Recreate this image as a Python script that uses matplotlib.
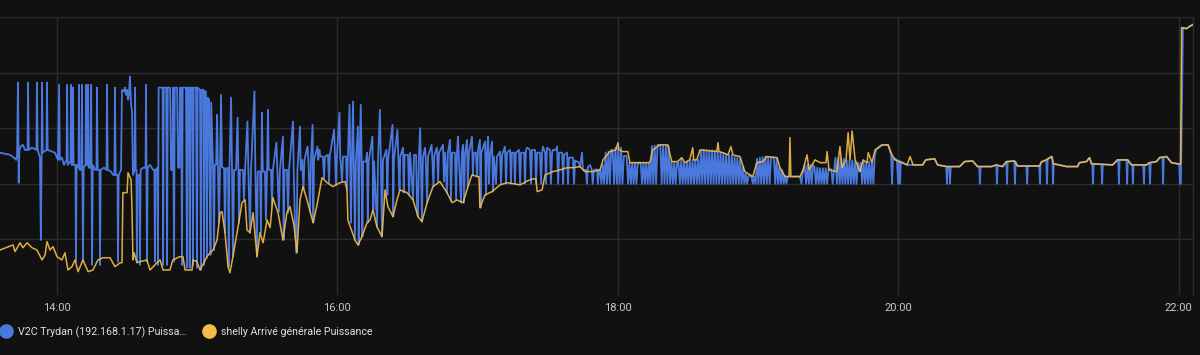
import numpy as np
import pandas as pd
import matplotlib
matplotlib.use("Agg")
import matplotlib.pyplot as plt
from matplotlib.lines import Line2D

plt.rcParams['font.family'] = ['Roboto', 'DejaVu Sans']

# ---------------- data (minutes after 14:00, watts) ----------------
labels = ["V2C Trydan (192.168.1.17) Puissa\u2026", "shelly Arriv\u00e9 g\u00e9n\u00e9rale Puissance"]
tick_hours = ["14:00", "16:00", "18:00", "20:00", "22:00"]

shelly_min = [
    -24.4, -18.8, -18.0, -15.8, -14.6, -12.8, -10.7, -8.6, -6.4, -5.1, -4.3, -3.0, -1.7, 0.0,
    2.1, 3.4, 4.7, 6.4, 7.7, 9.0, 11.1, 13.3, 15.4, 17.5, 19.7, 22.7, 24.8, 27.0, 27.8, 28.2,
    30.0, 30.4, 31.7, 32.1, 32.5, 33.0, 34.2, 35.5, 38.5, 39.8, 43.2, 44.1, 45.4, 48.3, 49.6,
    52.6, 53.9, 54.8, 57.8, 58.2, 59.9, 61.2, 64.2, 65.5, 66.8, 68.5, 69.8, 70.6, 71.9, 73.2,
    74.0, 75.3, 77.5, 79.2, 80.5, 81.3, 82.6, 83.9, 85.6, 86.9, 88.2, 89.9, 91.2, 92.4, 94.6,
    96.7, 98.4, 99.7, 101.4, 102.7, 104.0, 105.3, 107.0, 109.6, 111.3, 113.4, 115.6, 118.1,
    121.1, 123.3, 124.1, 124.5, 127.5, 128.8, 130.5, 132.7, 134.0, 135.2, 136.9, 139.1, 140.4,
    141.6, 143.8, 145.5, 146.8, 149.8, 152.4, 154.5, 156.2, 158.4, 160.9, 163.9, 166.9, 169.1,
    171.2, 173.8, 175.9, 177.6, 179.8, 180.6, 181.0, 183.2, 186.2, 189.6, 192.6, 198.2, 201.2,
    203.7, 205.0, 205.5, 207.6, 208.9, 212.3, 215.3, 218.3, 220.8, 223.8, 225.9, 229.3, 232.4,
    233.7, 236.6, 239.2, 240.1, 240.5, 242.1, 244.3, 245.2, 253.7, 255.0, 258.0, 261.4, 263.1,
    265.7, 267.4, 268.7, 270.8, 272.1, 272.5, 273.8, 275.2, 282.4, 282.9, 283.3, 285.0, 287.2,
    288.4, 289.3, 292.3, 294.4, 297.8, 299.5, 302.1, 303.8, 308.2, 309.4, 311.6, 313.3, 313.7,
    314.1, 318.0, 319.3, 320.1, 321.0, 321.9, 324.4, 326.6, 329.1, 329.6, 330.4, 333.8, 335.1,
    336.0, 337.7, 338.6, 339.4, 340.3, 341.6, 343.7, 345.0, 346.7, 347.2, 348.8, 350.1, 353.1,
    355.7, 357.4, 358.7, 363.8, 365.1, 366.4, 370.5, 371.8, 375.6, 376.9, 380.8, 386.3, 388.5,
    391.9, 394.0, 400.0, 402.1, 404.7, 406.4, 409.8, 411.1, 420.5, 421.4, 423.5, 425.7, 426.5,
    432.1, 436.8, 437.6, 440.6, 441.9, 442.8, 451.8, 453.9, 458.2, 459.9, 466.3, 467.6, 470.6,
    471.9, 474.9, 477.0, 479.6, 480.9, 481.3, 483.4, 484.7, 486.0,
]
shelly_w = [
    -1190, -1100, -1220, -1060, -1150, -1060, -1150, -1190, -1370, -1280, -1040, -1190, -1130, -1310,
    -1370, -1240, -1550, -1490, -1370, -1580, -1370, -1580, -1550, -1370, -1330, -1330, -1490, -1420, -1420, -160,
    -160, 200, 70, -470, -1370, -1240, -1420, -1400, -1370, -1550, -1400, -1370, -1550, -1550, -1370,
    -1310, -1310, -1550, -1550, -1370, -1400, -1550, -1310, -1240, -1190, -1010, -520, -500, -880, -1490,
    -1600, -1310, -770, -340, -290, -830, -880, -520, -1310, -880, -1060, -650, -790, -250, -520,
    -1010, -520, -410, -740, -1240, -290, -50, -290, -700, -380, 110, 20, -50,
    20, 40, -110, -650, -1010, -1100, -950, -700, -650, -470, -770, -950, -110,
    -410, -590, -290, -110, -160, -290, -590, -680, -340, -50, 40, -160, -340,
    -290, -340, -50, 160, 130, 130, -430, -200, -140, -20, 20, -20, 50,
    90, 90, -140, -110, 160, 220, 250, 290, 290, 310, 220, 220, 250,
    430, 580, 610, 740, 610, 580, 580, 380, 380, 610, 700, 700, 400,
    400, 470, 380, 430, 650, 430, 430, 610, 580, 740, 580, 560, 520,
    670, 520, 490, 220, 130, 380, 400, 490, 470, 290, 130, 130, 830,
    130, 130, 250, 380, 520, 250, 430, 380, 380, 580, 250, 220, 670,
    290, 430, 920, 430, 950, 430, 220, 430, 380, 560, 380, 610, 700,
    700, 520, 430, 340, 490, 340, 340, 430, 450, 340, 310, 310, 400,
    410, 310, 310, 340, 310, 400, 410, 320, 320, 400, 430, 490, 360,
    310, 310, 380, 400, 470, 360, 340, 430, 430, 340, 340, 380, 400,
    470, 490, 380, 360, 360, 2810, 2790, 2830, 2860,
]

v2c_min = [
    # 13:35 - 14:00
    -24.4, -20.1, -18.4, -17.5, -17.1, -16.7, -16.4, -16.1, -15.4, -14.6, -13.7, -12.6, -12.4,
    -12.1, -10.7, -8.8, -8.6, -8.3, -7.3, -6.9, -6.6, -6.4, -6.1, -4.5, -4.3, -4.0, -2.1, -0.9,
    0.4, 0.9, 1.2,
    # 14:00 - 14:44
    2.1, 3.0, 4.1, 4.3, 4.6, 5.8, 6.0, 6.3, 6.6, 6.8, 7.1, 7.9, 8.1, 8.4, 9.2, 9.4, 9.7, 10.5,
    10.7, 10.9, 11.1, 11.4, 12.2, 12.4, 12.7, 13.1, 13.3, 13.6, 14.3, 14.6, 14.8, 15.0, 15.3,
    16.3, 16.9, 17.1, 17.4, 18.2, 18.4, 18.7, 20.1, 21.2, 21.4, 21.7, 23.1, 24.0, 24.6, 24.8,
    25.1, 25.9, 26.1, 26.4, 27.4, 27.8, 28.7, 29.1, 29.5, 30.0, 30.4, 30.8, 31.2, 31.7, 32.1,
    32.5, 33.2, 33.4, 33.7, 34.0, 34.2, 34.5, 35.3, 35.5, 35.8, 36.8, 37.9, 38.1, 38.3, 38.5,
    38.8, 39.8, 41.1, 41.7, 41.9, 42.2, 43.0, 43.2, 43.5,
    # 14:44 - 15:08
    44.5, 45.2, 45.4, 45.7, 46.7, 47.1, 47.4, 48.4, 48.8, 49.4, 49.6, 50.1, 50.4, 51.4, 51.8,
    52.4, 52.6, 53.1, 53.5, 53.8, 55.2, 55.6, 55.9, 56.5, 56.8, 57.1, 57.8, 58.2, 58.5, 59.5,
    59.9, 60.2, 61.2, 61.6, 61.9, 62.7, 62.9, 63.2, 63.7, 64.2, 64.5, 65.1, 65.3, 65.7, 66.0,
    66.8, 67.2, 67.5,
    # 15:08 - 15:45
    68.1, 68.5, 68.9, 69.3, 69.8, 70.2, 70.6, 71.5, 71.9, 72.3, 73.2, 73.5, 73.8, 74.5, 74.9,
    75.3, 75.8, 76.6, 77.3, 77.6, 77.9, 78.3, 79.6, 80.0, 80.5, 81.5, 81.9, 82.6, 83.0, 84.5,
    84.9, 85.6, 85.9, 86.9, 87.3, 87.7, 88.1, 89.0, 89.4, 89.9, 90.3, 90.6, 91.6, 92.0, 92.4,
    93.9, 94.3, 95.0, 95.4, 96.7, 97.0, 97.4, 98.4, 98.9, 99.3, 101.0, 101.3, 101.9, 102.5,
    102.9, 104.0, 104.3,
    # 15:45 - 16:27
    104.9, 105.5, 105.9, 107.2, 107.6, 108.3, 108.7, 109.4, 109.7, 110.0, 111.5, 111.8, 112.3,
    112.7, 113.8, 114.3, 114.7, 116.0, 116.4, 116.8, 118.6, 119.0, 119.4, 119.8, 120.9, 121.2,
    122.0, 122.4, 123.7, 124.1, 124.5, 125.2, 125.5, 125.8, 126.2, 126.7, 127.0, 127.5, 127.9,
    128.8, 129.1, 129.5, 130.0, 130.4, 130.7, 131.0, 132.2, 132.7, 133.0, 133.4, 135.0, 135.4,
    135.7, 137.0, 137.4, 138.2, 138.6, 139.1, 139.5, 141.0, 141.4, 141.7, 143.6, 143.9, 144.2,
    145.7, 146.1, 146.6, 146.9,
    # 16:28 - 17:02
    148.1, 148.4, 148.8, 150.2, 150.7, 151.1, 152.4, 152.8, 153.7, 154.1, 154.5, 154.9, 155.4,
    155.7, 156.2, 156.6, 157.5, 157.8, 158.4, 158.8, 160.3, 160.6, 161.1, 161.5, 162.6, 163.1,
    163.5, 165.2, 165.6, 166.1, 166.9, 167.3, 168.2, 168.6, 169.1, 170.3, 170.8, 171.2, 171.6,
    171.9, 172.9, 173.3, 173.8, 174.2, 174.6, 175.5, 175.8, 176.3, 177.6, 178.0, 178.4, 179.3,
    179.8, 180.2, 181.0, 181.3, 181.6,
    # 17:03 - 17:52
    183.2, 183.6, 184.0, 184.5, 184.9, 185.3, 186.2, 186.6, 187.0, 187.9, 188.3, 189.6, 190.0,
    190.5, 191.7, 192.2, 192.6, 193.9, 194.3, 194.7, 195.6, 196.0, 196.4, 197.7, 198.2, 198.6,
    199.9, 200.3, 200.7, 201.2, 202.4, 202.9, 203.3, 204.6, 205.0, 205.5, 206.7, 207.2, 207.6,
    208.0, 208.9, 209.3, 209.7, 211.0, 211.4, 211.9, 212.3, 213.6, 214.0, 214.5, 214.9, 216.2,
    216.6, 217.0, 218.3, 218.7, 219.1, 220.8, 221.3, 221.7, 223.4, 223.8, 224.7, 225.1, 226.4,
    226.8, 227.2, 228.1, 228.9, 229.3, 229.8, 231.1, 231.5, 232.0,
    # 17:52 - 20:00
    232.4, 233.0, 233.6, 234.2, 234.8, 235.4, 236.0, 236.6, 237.2, 237.8, 238.4, 239.0, 239.6,
    240.2, 240.8, 241.4, 242.0, 242.6, 243.8, 244.4, 245.0, 245.6, 246.2, 246.8, 247.4, 248.0,
    248.6, 249.8, 250.4, 251.0, 251.6, 252.2, 252.8, 253.4, 254.0, 254.6, 255.2, 255.8, 256.4,
    257.0, 258.2, 258.8, 259.4, 260.0, 260.6, 261.2, 261.8, 262.4, 263.0, 263.6, 264.2, 264.8,
    265.4, 266.0, 266.6, 267.2, 267.8, 268.4, 269.0, 269.6, 270.2, 270.8, 271.4, 272.0, 272.6,
    273.2, 273.8, 274.4, 275.0, 275.6, 276.2, 276.8, 277.4, 278.0, 278.6, 279.2, 279.8, 280.4,
    281.0, 281.6, 282.2, 282.8, 283.4, 284.0, 284.6, 285.2, 285.8, 286.4, 287.0, 287.6, 288.2,
    288.8, 289.4, 290.0, 290.6, 291.2, 291.8, 292.4, 293.0, 293.6, 294.2, 294.8, 295.4, 296.0,
    297.2, 297.8, 298.4, 299.0, 299.6, 300.2, 300.8, 301.4, 302.0, 302.6, 303.2, 303.8, 304.4,
    305.0, 305.6, 306.8, 307.4, 308.0, 308.6, 309.2, 309.8, 310.4, 311.0, 311.6, 312.2, 312.8,
    318.0, 318.6, 319.2, 320.0, 320.6, 321.2, 321.8, 322.4, 323.0, 323.6, 324.2, 324.8, 325.4,
    326.0, 326.6, 327.2, 327.8, 328.4, 329.0, 329.6, 330.2, 331.4, 332.0, 332.6, 333.2, 333.8,
    334.4, 335.0, 335.6, 336.2, 336.8, 337.4, 338.0, 338.6, 339.2, 339.8, 340.4, 341.0, 341.6,
    342.2, 342.8, 343.4, 344.0, 344.6, 345.2, 345.8, 346.4, 347.0, 347.6, 348.2, 348.8, 349.4,
    350.0, 350.6, 353.1, 355.7, 357.0, 357.4, 357.8, 359.5, 360.0, 360.4, 360.8, 361.2,
    # 20:01 - 22:06
    363.8, 370.5, 371.8, 375.6, 376.9, 380.6, 380.9, 381.2, 381.9, 382.2, 382.5, 386.3, 388.5,
    391.9, 394.0, 394.7, 395.0, 395.3, 400.0, 402.0, 402.3, 402.6, 404.7, 406.3, 406.6, 406.9,
    409.7, 410.0, 410.3, 411.1, 414.9, 415.2, 415.5, 420.4, 420.7, 421.0, 423.4, 423.7, 424.0,
    425.7, 426.0, 426.3, 426.6, 432.1, 436.8, 437.6, 440.6, 441.9, 442.8, 443.1, 443.4, 443.7,
    447.0, 447.3, 447.6, 451.8, 453.9, 454.2, 454.5, 454.8, 457.7, 458.0, 458.3, 459.9, 460.2,
    460.5, 460.8, 464.9, 465.2, 465.5, 466.3, 467.5, 467.8, 468.1, 470.6, 471.9, 473.1, 473.4,
    473.7, 474.9, 477.0, 479.6, 480.3, 480.6, 481.0, 481.9, 483.4, 484.7, 486.0,
]
v2c_w = [
    560, 520, 470, 430, 500, 1820, 20, 610, 680, 700, 610, 610, 1820,
    610, 650, 610, 1820, 610, 470, -1010, 470, 1820, 560, 610, 1820, 610, 580, 560,
    430, 1780, 430,
    470, 340, 430, 1780, 340, 400, 1780, 340, 340, 1730, 340, 340, -1400, 340, 290, 1780, 250, 250,
    1780, 250, -1400, 290, 340, 1780, 340, 340, 1780, 290, 290, 1780, 290, -1460, 340,
    250, 250, 1730, 250, 250, -1460, 250, 290, 250, 1780, 250, 220, 160, 160, 1730,
    160, 160, -1400, 160, 250, 1690, 1660, 1730, 1600, 1690, 1510, 1600, 1930, 1420, 1300,
    160, 250, 1730, 250, 250, -1400, 160, 160, -1460, 250, 290, 290, 1780, 290, -1400,
    290, 340, 250, 250, -1400, 250, 290, -1460, 1730,
    1730, 1730, -1460, 1730, 1730, -1460, 1730, 1730, 250, 250, 1730, -1400, 1730, 1730, 290,
    290, 1730, 1730, -1460, 1730, 1730, -1510, 1730, 1730, -1510, 1730, 1730, -1460, 1730, 1730,
    -1510, 1730, 1690, -1550, 1690, 1690, -1460, 1660, 1660, -1330, 1550, 1510, 250, -1280, 1460,
    250, -1190, 340,
    340, 1240, 290, -700, 300, 1600, 300, 280, -880, 280, 280, -1490, 280, 1550, 280,
    -1310, 250, 250, 1190, 250, -700, 250, 250, -300, 250, 1120, 220, -880, 220, 1660,
    220, -1310, 220, 220, -880, 1280, 220, 220, -650, 220, 1330, 250, 250, -400, 250,
    740, 250, -500, 250, 850, -1010, 250, 250, -520, 250, 1120, 250, -800, -1240,
    250, 1030, 250,
    430, -100, 430, 670, 430, -500, 430, 1060, -700, 430, 670, 430, 610,
    490, 490, 100, 490, 520, 20, 520, 970, 490, -30, 490, 1280, 490,
    30, 490, 490, -110, 490, 1420, 430, -700, 430, 1480, 430, -1010, 400,
    1030, -1100, 400, 1420, 400, -950, 400, 400, 560, -700, 400, 850, -470,
    400, -770, 430, 1330, 430, -950, 430, 610, -200, 430, 1060, -590, 430,
    970, 430, -110, 490,
    650, -160, 520, 520, -200, 560, -290, 520, 520, -500, -590, 470, 1000,
    470, -680, 470, 650, 470, -340, 490, 700, 490, -50, 520, 650, 40,
    560, 700, 40, 560, -160, 560, 790, -300, 560, 560, -290, 560, 850,
    560, -340, 560, 700, -340, 520, 790, -50, 560, 850, 160, 560, 560,
    130, 610, 790, -430, 560,
    760, -200, 520, 850, 0, 520, 760, -140, 490, 0, 490, 580, 0,
    520, 670, 0, 560, 610, 0, 560, 560, 0, 560, 610, 0, 560,
    560, 0, 610, 650, 610, 0, 610, 610, 0, 560, 560, 0, 560,
    670, 560, 0, 650, 610, 0, 560, 610, 610, 670, 0, 560, 560,
    0, 520, 560, 0, 470, 470, 0, 420, 380, 300, 560, 250, 250,
    0, 300, 340, 250, 0, 250, 260, 0, 250,
    250, 0, 340, 0, 560, 0, 580, 0, 610, 610, 0, 650, 0,
    650, 0, 650, 0, 500, 500, 0, 380, 0, 380, 0, 380, 0,
    380, 380, 0, 380, 0, 380, 0, 380, 0, 680, 0, 690, 0,
    700, 700, 0, 700, 0, 690, 0, 680, 0, 400, 0, 380, 0,
    380, 380, 0, 450, 0, 380, 0, 400, 0, 430, 0, 430, 0,
    430, 0, 430, 0, 600, 0, 610, 0, 610, 0, 600, 0, 600,
    0, 590, 0, 580, 0, 560, 0, 550, 0, 520, 0, 520, 0,
    520, 0, 480, 0, 470, 0, 450, 0, 300, 0, 180, 0, 150,
    130, 0, 130, 0, 450, 0, 470, 0, 480, 0, 490, 0, 480,
    0, 470, 470, 0, 470, 0, 300, 0, 250, 0, 150, 0, 130,
    130, 0, 200, 340, 0, 340, 0, 340, 0, 340, 300, 0, 290,
    0, 280, 0, 280, 0, 280, 0, 260, 260, 0, 250, 470, 0,
    470, 0, 470, 0, 450, 0, 420, 0, 420, 0, 420, 0, 400,
    0, 380, 220, 380, 0, 400, 0, 380, 0, 400, 0, 380, 0,
    500, 610, 700, 700, 520, 0, 470, 430, 0, 420, 0, 400,
    340, 340, 430, 450, 340, 310, 0, 310, 310, 0, 310, 310, 400,
    410, 310, 310, 0, 310, 310, 340, 0, 330, 310, 400, 0, 400,
    410, 0, 400, 320, 320, 0, 320, 320, 0, 380, 430, 0, 450,
    490, 480, 0, 360, 310, 310, 380, 400, 470, 360, 360, 0, 360,
    350, 0, 350, 340, 430, 430, 0, 430, 430, 0, 430, 340, 340,
    0, 340, 340, 0, 340, 340, 380, 0, 380, 400, 470, 480, 0,
    480, 490, 380, 360, 360, 0, 0, 2810, 2790, 2830, 2860,
]

assert len(shelly_min) == len(shelly_w), (len(shelly_min), len(shelly_w))
assert len(v2c_min) == len(v2c_w), (len(v2c_min), len(v2c_w))

# ---------------- styling ----------------
bg = '#111111'
grid_c = '#2c2c2c'
blue = '#4a78dc'
yellow = '#f4bd4a'
text_c = '#c9c9c9'

base = pd.Timestamp('2024-05-01 14:00')
t_sh = base + pd.to_timedelta(shelly_min, unit='min')
t_v2c = base + pd.to_timedelta(v2c_min, unit='min')

fig = plt.figure(figsize=(12, 3.55), dpi=100, facecolor=bg)
ax = fig.add_axes([0.0, 1 - 295 / 355, 1193 / 1200, (295 - 17) / 355])
ax.set_facecolor(bg)

ax.plot(t_v2c, v2c_w, color=blue, lw=1.3, zorder=3)
ax.plot(t_sh, shelly_w, color=yellow, lw=1.1, alpha=0.9, zorder=4)

ax.set_ylim(-2000, 3000)
ax.set_yticks([-2000, -1000, 0, 1000, 2000, 3000])
ax.set_yticklabels([])
ax.set_xlim(base - pd.Timedelta(minutes=24.4), base + pd.Timedelta(minutes=486.2))
tick_pos = [base + pd.Timedelta(hours=2 * i) for i in range(len(tick_hours))]
ax.set_xticks(tick_pos)
ax.set_xticklabels(tick_hours)
ax.tick_params(axis='both', length=0, colors=text_c, labelsize=8, pad=6)
ax.grid(True, color=grid_c, lw=1.0)
ax.set_axisbelow(True)
for side in ['left', 'top', 'bottom']:
    ax.spines[side].set_visible(False)
ax.spines['right'].set_color(grid_c)
ax.spines['right'].set_linewidth(1.0)

handles = [Line2D([], [], marker='o', ls='', color=blue, markersize=9.5),
           Line2D([], [], marker='o', ls='', color=yellow, markersize=9.5)]
fig.legend(handles, labels, loc='center left', bbox_to_anchor=(-0.004, 1 - 332 / 355),
           ncol=2, frameon=False, handletextpad=0.55, columnspacing=1.45,
           handlelength=1.2, fontsize=7.7, labelcolor='#e0e0e0', borderaxespad=0)

fig.savefig('out.png', dpi=100, facecolor=bg)
